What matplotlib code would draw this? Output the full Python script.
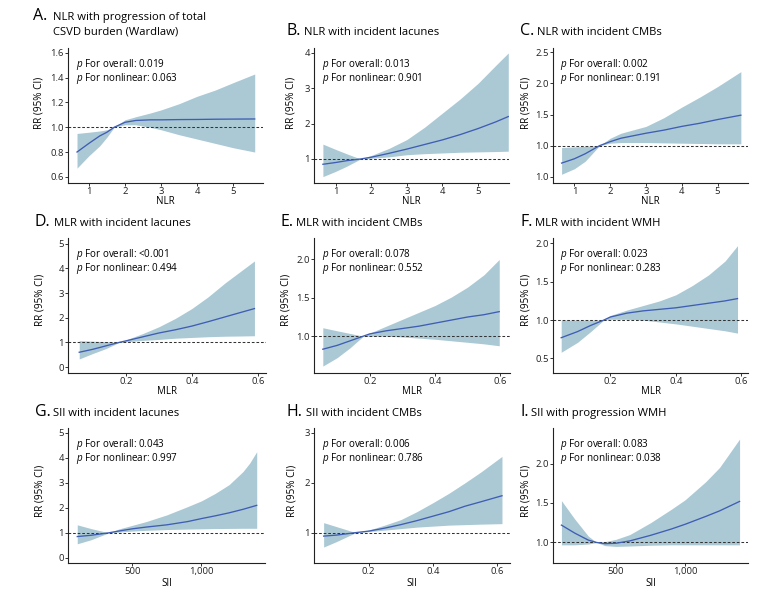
import matplotlib
matplotlib.use('Agg')
import matplotlib.pyplot as plt
from matplotlib.ticker import FixedLocator, FixedFormatter

plt.rcParams['font.family'] = ['Open Sans', 'DejaVu Sans']
plt.rcParams['mathtext.fontset'] = 'custom'
plt.rcParams['mathtext.it'] = 'Open Sans:italic'
plt.rcParams['mathtext.rm'] = 'Open Sans'

# ---------------- data ----------------
a_x = [0.67, 1.0, 1.3, 1.5, 1.7, 2.0, 2.3, 2.7, 3.0, 3.5, 4.0, 4.5, 5.0, 5.6]
a_rr = [0.80, 0.87, 0.93, 0.96, 1.0, 1.04, 1.055, 1.06, 1.06, 1.062, 1.063, 1.065, 1.066, 1.067]
a_up = [0.95, 0.96, 0.97, 0.98, 1.0, 1.06, 1.085, 1.115, 1.14, 1.19, 1.25, 1.30, 1.36, 1.43]
a_lo = [0.67, 0.77, 0.85, 0.92, 1.0, 1.02, 1.02, 1.0, 0.98, 0.94, 0.905, 0.87, 0.835, 0.80]

b_x = [0.64, 1.0, 1.3, 1.7, 2.0, 2.5, 3.0, 3.5, 4.0, 4.5, 5.0, 5.5, 5.85]
b_rr = [0.85, 0.9, 0.95, 1.0, 1.05, 1.16, 1.28, 1.41, 1.54, 1.69, 1.86, 2.05, 2.2]
b_up = [1.42, 1.27, 1.15, 1.0, 1.1, 1.3, 1.55, 1.9, 2.3, 2.7, 3.14, 3.65, 4.0]
b_lo = [0.5, 0.65, 0.79, 1.0, 1.02, 1.06, 1.12, 1.15, 1.17, 1.19, 1.2, 1.21, 1.22]

c_x = [0.64, 1.0, 1.3, 1.7, 2.0, 2.3, 3.0, 3.5, 4.0, 4.5, 5.0, 5.65]
c_rr = [0.72, 0.79, 0.87, 1.0, 1.065, 1.12, 1.2, 1.25, 1.31, 1.36, 1.42, 1.49]
c_up = [0.97, 0.98, 0.99, 1.0, 1.12, 1.2, 1.31, 1.45, 1.62, 1.78, 1.95, 2.19]
c_lo = [0.54, 0.63, 0.75, 1.0, 1.04, 1.05, 1.05, 1.045, 1.04, 1.035, 1.03, 1.03]

d_x = [0.059, 0.1, 0.14, 0.18, 0.2, 0.25, 0.3, 0.35, 0.4, 0.45, 0.5, 0.55, 0.59]
d_rr = [0.6, 0.72, 0.86, 1.0, 1.06, 1.22, 1.38, 1.51, 1.66, 1.84, 2.03, 2.22, 2.37]
d_up = [1.07, 1.05, 1.03, 1.0, 1.1, 1.35, 1.63, 1.97, 2.37, 2.85, 3.4, 3.9, 4.3]
d_lo = [0.33, 0.55, 0.75, 1.0, 1.02, 1.08, 1.12, 1.17, 1.2, 1.23, 1.25, 1.26, 1.27]

e_x = [0.056, 0.1, 0.14, 0.18, 0.2, 0.25, 0.3, 0.35, 0.4, 0.45, 0.5, 0.55, 0.597]
e_rr = [0.83, 0.88, 0.94, 1.0, 1.03, 1.07, 1.1, 1.13, 1.17, 1.21, 1.25, 1.28, 1.32]
e_up = [1.11, 1.07, 1.035, 1.0, 1.04, 1.13, 1.22, 1.31, 1.4, 1.51, 1.64, 1.8, 2.0]
e_lo = [0.61, 0.72, 0.85, 1.0, 1.0, 1.0, 0.99, 0.975, 0.96, 0.94, 0.92, 0.9, 0.875]

f_x = [0.05, 0.1, 0.14, 0.18, 0.2, 0.25, 0.3, 0.35, 0.4, 0.45, 0.5, 0.55, 0.588]
f_rr = [0.77, 0.85, 0.93, 1.0, 1.04, 1.09, 1.12, 1.14, 1.16, 1.19, 1.22, 1.25, 1.28]
f_up = [1.0, 1.0, 1.0, 1.0, 1.06, 1.13, 1.19, 1.25, 1.33, 1.45, 1.59, 1.77, 1.97]
f_lo = [0.58, 0.71, 0.85, 1.0, 1.01, 1.01, 1.0, 0.975, 0.95, 0.92, 0.89, 0.86, 0.83]

g_x = [101, 200, 330, 400, 500, 600, 750, 900, 1000, 1100, 1200, 1300, 1350, 1400]
g_rr = [0.85, 0.9, 1.0, 1.07, 1.16, 1.23, 1.32, 1.45, 1.57, 1.68, 1.8, 1.94, 2.02, 2.1]
g_up = [1.32, 1.17, 1.0, 1.15, 1.3, 1.45, 1.72, 2.05, 2.28, 2.58, 2.93, 3.45, 3.8, 4.25]
g_lo = [0.56, 0.72, 1.0, 1.03, 1.07, 1.1, 1.13, 1.15, 1.16, 1.17, 1.175, 1.18, 1.18, 1.18]

h_x = [0.06, 0.1, 0.16, 0.2, 0.25, 0.3, 0.35, 0.4, 0.45, 0.5, 0.55, 0.615]
h_rr = [0.93, 0.95, 1.0, 1.03, 1.09, 1.16, 1.24, 1.33, 1.42, 1.53, 1.62, 1.74]
h_up = [1.2, 1.12, 1.0, 1.05, 1.15, 1.26, 1.42, 1.6, 1.79, 2.0, 2.22, 2.53]
h_lo = [0.71, 0.82, 1.0, 1.02, 1.05, 1.08, 1.11, 1.13, 1.15, 1.16, 1.17, 1.18]

i_x = [105, 200, 300, 360, 420, 500, 600, 750, 900, 1000, 1150, 1250, 1395]
i_rr = [1.22, 1.12, 1.03, 1.0, 0.985, 0.99, 1.02, 1.09, 1.17, 1.23, 1.33, 1.40, 1.52]
i_up = [1.53, 1.3, 1.08, 1.0, 1.01, 1.04, 1.1, 1.25, 1.42, 1.54, 1.77, 1.95, 2.31]
i_lo = [0.97, 0.97, 0.98, 1.0, 0.96, 0.95, 0.955, 0.965, 0.97, 0.97, 0.97, 0.97, 0.97]

letters = ['A.', 'B.', 'C.', 'D.', 'E.', 'F.', 'G.', 'H.', 'I.']
titles = ['NLR with progression of total', 'NLR with incident lacunes', 'NLR with incident CMBs',
          'MLR with incident lacunes', 'MLR with incident CMBs', 'MLR with incident WMH',
          'SII with incident lacunes', 'SII with incident CMBs', 'SII with progression WMH']
title_line2 = {0: 'CSVD burden (Wardlaw)'}
xlabels = ['NLR', 'NLR', 'NLR', 'MLR', 'MLR', 'MLR', 'SII', 'SII', 'SII']
p_overall = ['0.019', '0.013', '0.002', '<0.001', '0.078', '0.023', '0.043', '0.006', '0.083']
p_nonlin = ['0.063', '0.901', '0.191', '0.494', '0.552', '0.283', '0.997', '0.786', '0.038']

xticks = [[1, 2, 3, 4, 5]] * 3 + [[0.2, 0.4, 0.6]] * 3 + [[500, 1000], [0.2, 0.4, 0.6], [500, 1000]]
xticklabels = [['1', '2', '3', '4', '5']] * 3 + [['0.2', '0.4', '0.6']] * 3 + \
              [['500', '1,000'], ['0.2', '0.4', '0.6'], ['500', '1,000']]
yticks = [[0.6, 0.8, 1.0, 1.2, 1.4, 1.6], [1, 2, 3, 4], [0.5, 1.0, 1.5, 2.0, 2.5],
          [0, 1, 2, 3, 4, 5], [1.0, 1.5, 2.0], [0.5, 1.0, 1.5, 2.0],
          [0, 1, 2, 3, 4, 5], [1, 2, 3], [1.0, 1.5, 2.0]]
yticklabels = [['0.6', '0.8', '1.0', '1.2', '1.4', '1.6'], ['1', '2', '3', '4'],
               ['1.0', '1.0', '1.5', '2.0', '2.5'], ['0', '1', '2', '3', '4', '5'],
               ['1.0', '1.5', '2.0'], ['0.5', '1.0', '1.5', '2.0'],
               ['0', '1', '2', '3', '4', '5'], ['1', '2', '3'], ['1.0', '1.5', '2.0']]

series = [(a_x, a_rr, a_lo, a_up), (b_x, b_rr, b_lo, b_up), (c_x, c_rr, c_lo, c_up),
          (d_x, d_rr, d_lo, d_up), (e_x, e_rr, e_lo, e_up), (f_x, f_rr, f_lo, f_up),
          (g_x, g_rr, g_lo, g_up), (h_x, h_rr, h_lo, h_up), (i_x, i_rr, i_lo, i_up)]

# ---------------- layout (pixels) ----------------
W, H = 766, 595
rects = [(68, 48, 263, 183), (314, 48, 509, 183), (553, 48, 748, 183),
         (68, 238, 266, 373), (314, 238, 510, 373), (553, 238, 748, 373),
         (68, 428, 265, 563), (314, 428, 510, 563), (553, 428, 748, 563)]
xlims = [(0.42, 5.83), (0.39, 5.87), (0.40, 5.85),
         (0.025, 0.625), (0.029, 0.63), (0.025, 0.62),
         (34, 1460), (0.03, 0.64), (44, 1456)]
ylims = [(0.55, 1.64), (0.32, 4.14), (0.40, 2.57),
         (-0.24, 5.23), (0.52, 2.28), (0.31, 2.07),
         (-0.21, 5.2), (0.39, 3.1), (0.74, 2.45)]
letter_x = [33, 286, 520, 35, 281, 520, 35, 287, 520]
title_x = [53, 304, 537, 54, 296, 535, 53, 306, 531]
title_base = [20, 35, 35, 225.5, 225.5, 225.5, 416, 416, 416]
ylab_x = [39, 291, 526, 40, 286, 526, 40, 292, 526]
ylab_y = [103, 103, 103, 300, 300, 300, 491, 491, 491]
xlab_y = [201, 201, 201, 391, 391, 391, 583, 583, 583]

BAND = '#abc9d4'
LINE = '#3f5db3'
DARK = '#222222'
TXT = '#000000'

fig = plt.figure(figsize=(W / 100, H / 100), dpi=100)


def fx(px):
    return px / W


def fy(py):
    return 1 - py / H


for k in range(9):
    l, t, r, b = rects[k]
    ax = fig.add_axes([fx(l), fy(b), (r - l) / W, (b - t) / H])
    x, rr, lo, up = series[k]
    ax.fill_between(x, lo, up, color=BAND, lw=0, zorder=1)
    ax.axhline(1.0, color='#333333', lw=0.75, ls=(0, (2.6, 1.8)), zorder=2)
    ax.plot(x, rr, color=LINE, lw=0.95, zorder=3)
    ax.set_xlim(*xlims[k])
    ax.set_ylim(*ylims[k])
    ax.xaxis.set_major_locator(FixedLocator(xticks[k]))
    ax.xaxis.set_major_formatter(FixedFormatter(xticklabels[k]))
    ax.yaxis.set_major_locator(FixedLocator(yticks[k]))
    ax.yaxis.set_major_formatter(FixedFormatter(yticklabels[k]))
    for s in ['top', 'right']:
        ax.spines[s].set_visible(False)
    for s in ['left', 'bottom']:
        ax.spines[s].set_color(DARK)
        ax.spines[s].set_linewidth(0.8)
    ax.tick_params(direction='out', length=2, width=0.7, color='#333333',
                   labelsize=6.8, pad=1.0, labelcolor='#222222')

    # titles
    fig.text(fx(letter_x[k]), fy(title_base[k]), letters[k], fontsize=11.5,
             va='baseline', ha='left', color=TXT)
    fig.text(fx(title_x[k]), fy(title_base[k]), titles[k], fontsize=8.1,
             va='baseline', ha='left', color=TXT)
    if k in title_line2:
        fig.text(fx(title_x[k]), fy(title_base[k] + 14.5), title_line2[k], fontsize=8.1,
                 va='baseline', ha='left', color=TXT)

    # p values
    fig.text(fx(l + 7.5), fy(t + 19.5), r'$p$ For overall: ' + p_overall[k], fontsize=7.1,
             va='baseline', ha='left', color=TXT)
    fig.text(fx(l + 7.5), fy(t + 33), r'$p$ For nonlinear: ' + p_nonlin[k], fontsize=7.1,
             va='baseline', ha='left', color=TXT)

    # axis labels
    fig.text(fx(ylab_x[k]), fy(ylab_y[k]), 'RR (95% CI)', rotation=90, fontsize=7.2,
             ha='center', va='center', color=TXT)
    fig.text(fx((l + r) / 2), fy(xlab_y[k]), xlabels[k], fontsize=7.0,
             ha='center', va='center', color=TXT)

fig.savefig('out.png', dpi=100)
